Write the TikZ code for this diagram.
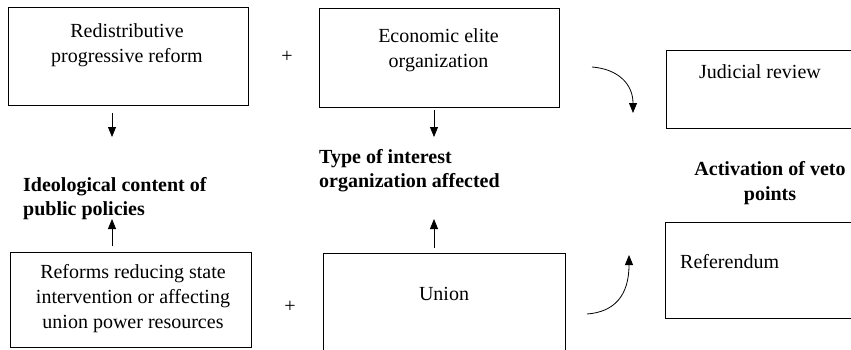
\documentclass[tikz,border=0pt]{standalone}
\usepackage{fontspec}
\setmainfont{Liberation Serif}
\usetikzlibrary{arrows.meta}
\begin{document}
\begin{tikzpicture}[x=1pt,y=-1pt,
  box/.style={draw, line width=1.4pt, rectangle, inner sep=0pt, anchor=north west},
  txt/.style={font=\fontsize{20}{25}\selectfont, inner sep=0pt, anchor=base, align=center},
  ltxt/.style={txt, anchor=base west, align=left},
  head/.style={font=\fontsize{20}{23.5}\selectfont\bfseries, inner sep=0pt, align=left, anchor=base west},
  arr/.style={line width=0.8pt, -{Triangle[length=10pt,width=8pt]}}]
\clip (0,0) rectangle (851,349);

% upper row of boxes
\node[box, minimum width=240pt, minimum height=98pt] (redist) at (7.5,7) {};
\node[box, minimum width=240pt, minimum height=99pt] (elite) at (318.5,8) {};
\node[box, minimum width=210pt, minimum height=78pt] (judicial) at (666,50) {};

% lower row of boxes
\node[box, minimum width=241pt, minimum height=95pt] (reforms) at (9.5,252) {};
\node[box, minimum width=242pt, minimum height=120pt] (union) at (323,253) {};
\node[box, minimum width=210pt, minimum height=96pt] (referendum) at (664.5,222) {};

% box texts (base anchor = baseline of the last line)
\node[txt] (tredist) at (127,62) {Redistributive\\progressive reform};
\node[txt] (telite) at (438.5,67) {Economic elite\\organization};
\node[ltxt] (tjudicial) at (699,78) {Judicial review};
\node[txt] (treforms) at (133,328) {Reforms reducing state\\intervention or affecting\\union power resources};
\node[txt] (tunion) at (444,300) {Union};
\node[ltxt] (treferendum) at (680,268) {Referendum};

% plus signs
\node[txt, anchor=center] (plus1) at (287,57) {+};
\node[txt, anchor=center] (plus2) at (290,307) {+};

% dimension headings
\node[head] (ideo) at (23,215) {Ideological content of\\public policies};
\node[head] (interest) at (319,187) {Type of interest\\organization affected};
\node[head, font=\fontsize{20}{25}\selectfont\bfseries, align=center, anchor=base] (veto) at (770,200) {Activation of veto\\points};

% straight connectors
\coordinate (a1s) at (112,113); \coordinate (a1e) at (112,137);
\coordinate (a2s) at (434,110); \coordinate (a2e) at (434,137);
\coordinate (a3s) at (112,246); \coordinate (a3e) at (112,219);
\coordinate (a4s) at (434,248); \coordinate (a4e) at (434,219);
\draw[arr] (a1s) -- (a1e);
\draw[arr] (a2s) -- (a2e);
\draw[arr] (a3s) -- (a3e);
\draw[arr] (a4s) -- (a4e);

% curved connectors towards the veto points
\coordinate (c1s) at (592,67); \coordinate (c1e) at (633,113);
\coordinate (c2s) at (587,314); \coordinate (c2e) at (629,255);
\draw[arr] (c1s) .. controls (618,69) and (633,84) .. (c1e);
\draw[arr] (c2s) .. controls (614,312) and (629,296) .. (c2e);
\end{tikzpicture}
\end{document}
